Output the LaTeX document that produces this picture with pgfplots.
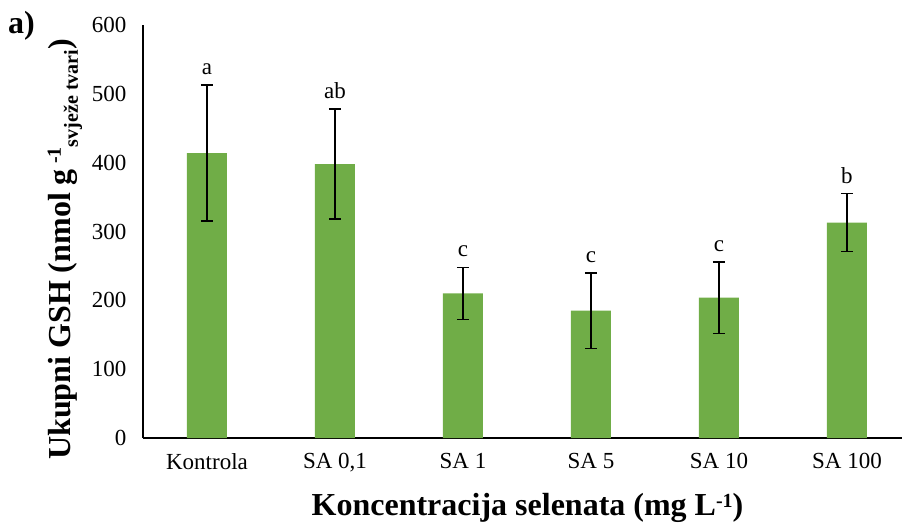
\documentclass[border=0pt]{standalone}
\usepackage{pgfplots}
\pgfplotsset{compat=1.18}
\usepackage{pgfplotstable}
\usepackage{fontspec}
\setmainfont{Liberation Serif}
\definecolor{barg}{RGB}{112,173,71}

% GSH, mean and error, with letters of significance
\pgfplotstableread{
x y err lbl
0 414 99 a
1 398 80 ab
2 210 38 c
3 185 55 c
4 204 52 c
5 313 42 b
}\gshdata

\begin{document}
\begin{tikzpicture}
\useasboundingbox (-143pt,-87pt) rectangle ++(902pt,525pt);
\begin{axis}[
    at={(0,0)}, anchor=south west,
    scale only axis, width=759pt, height=413pt,
    xmin=-0.5, xmax=5.43,
    ymin=0, ymax=600,
    axis x line*=bottom, axis y line*=left,
    axis line style={black, line width=1.2pt},
    xtick={0,...,5},
    xticklabels={Kontrola,{SA 0,1},SA 1,SA 5,SA 10,SA 100},
    ytick={0,100,...,600},
    major tick length=0pt,
    tick style={draw=none},
    /pgf/number format/assume math mode=true,
    ticklabel style={font=\fontsize{23}{26}\selectfont},
    xticklabel style={yshift=-12pt},
    yticklabel style={xshift=-13pt},
    xlabel={Koncentracija selenata (mg L\raisebox{8pt}{\fontsize{20}{20}\selectfont -1})},
    xlabel style={at={(rel axis cs:0.5066,0)}, anchor=base, yshift=-77pt,
        font=\bfseries\fontsize{32}{36}\selectfont},
    ylabel={Ukupni GSH (nmol g\,\raisebox{10pt}{\fontsize{20}{20}\selectfont -1}\raisebox{-7pt}{\fontsize{20}{20}\selectfont svježe tvari})},
    ylabel style={at={(rel axis cs:-0.0949,-0.0533)}, anchor=base west, inner sep=0pt,
        font=\bfseries\fontsize{32}{36}\selectfont},
    clip=false,
]
\addplot[ybar, bar width=40pt, fill=barg, draw=none,
    error bars/.cd, y dir=both, y explicit,
    error bar style={line width=1.5pt, draw=black},
    error mark options={rotate=90, mark size=6pt, line width=1.5pt, draw=black}]
    table[x=x, y=y, y error=err] {\gshdata};

\addplot[draw=none, mark=none, nodes near coords, point meta=explicit symbolic,
    nodes near coords style={font=\fontsize{23}{26}\selectfont, anchor=base,
        inner sep=0pt, yshift=10.5pt}]
    table[x=x, y expr=\thisrow{y}+\thisrow{err}, meta=lbl] {\gshdata};

\node[anchor=base west, inner sep=0pt, font=\bfseries\fontsize{32}{36}\selectfont,
    xshift=-135pt, yshift=-8pt] at (rel axis cs:0,1) {a)};
\end{axis}
\end{tikzpicture}
\end{document}
